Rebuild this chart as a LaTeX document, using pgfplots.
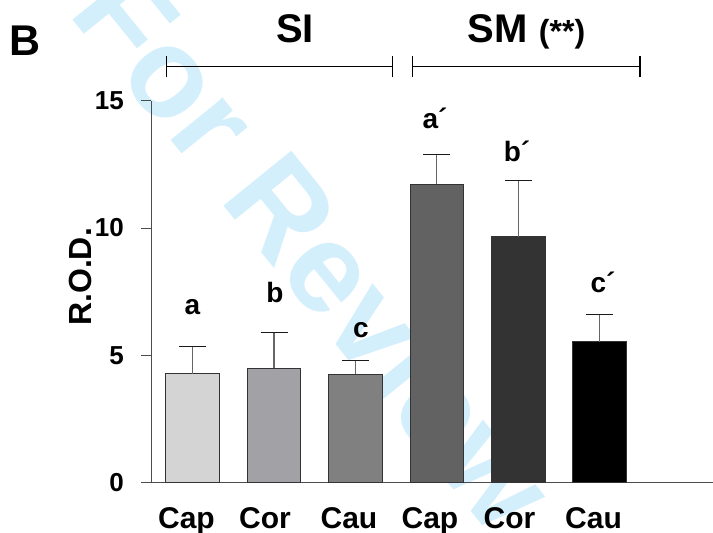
\documentclass[border=0pt]{standalone}
\usepackage{pgfplots}
\pgfplotsset{compat=1.18}
\usepackage{fontspec}
\setmainfont{Liberation Sans}
\definecolor{wm}{RGB}{212,239,252}
\definecolor{c1}{RGB}{212,212,212}
\definecolor{c2}{RGB}{162,161,166}
\definecolor{c3}{RGB}{128,128,128}
\definecolor{c4}{RGB}{98,98,98}
\definecolor{c5}{RGB}{51,51,51}
\definecolor{c6}{RGB}{0,0,0}
\newcommand{\fs}[1]{\bfseries\fontsize{#1}{#1}\selectfont}
\pgfplotsset{errstyle/.style={error bars/.cd, y dir=plus, y explicit,
  error bar style={black!60, line width=1.2pt},
  error mark options={rotate=90, black!90, line width=1.2pt, mark size=13.5pt}}}
\begin{document}
\begin{tikzpicture}
\useasboundingbox (0pt,0pt) rectangle (713pt,533pt);
% watermark
\node[text=wm, rotate=-51, inner sep=0pt] at (316pt,285pt) {\fs{127}For Review};
\begin{axis}[
  at={(151pt,50.3pt)}, anchor=south west,
  scale only axis, width=562pt, height=382pt,
  xmin=-0.512, xmax=6.392, ymin=0, ymax=15,
  axis x line*=bottom, axis y line*=left,
  axis line style={black!70, line width=1pt},
  clip=false,
  ybar, bar width=0.657, bar shift=0pt,
  ytick={0,5,10,15},
  tick align=outside, major tick length=10pt,
  y tick style={black!70, line width=1pt},
  x tick style={draw=none},
  xtick={-0.076,0.888,1.920,2.915,3.892,4.924},
  xticklabels={Cap,Cor,Cau,Cap,Cor,Cau},
  /pgf/number format/assume math mode=true,
  yticklabel style={font=\fs{26}, anchor=east, inner sep=0pt, xshift=-17pt},
  xticklabel style={font=\fs{30}, anchor=north, inner sep=0pt, yshift=-15pt},
]
\addplot[fill=c1, draw=black!80, line width=1pt, errstyle] coordinates {(0,4.28) +- (0,1.06)};
\addplot[fill=c2, draw=black!80, line width=1pt, errstyle] coordinates {(1,4.49) +- (0,1.40)};
\addplot[fill=c3, draw=black!80, line width=1pt, errstyle] coordinates {(2,4.26) +- (0,0.53)};
\addplot[fill=c4, draw=black!80, line width=1pt, errstyle] coordinates {(3,11.72) +- (0,1.17)};
\addplot[fill=c5, draw=black!80, line width=1pt, errstyle] coordinates {(4,9.66) +- (0,2.20)};
\addplot[fill=c6, draw=black!80, line width=1pt, errstyle] coordinates {(5,5.54) +- (0,1.07)};
\end{axis}
% y label
\node[rotate=90, inner sep=0pt] at (80pt,256pt) {\fs{32}R.O.D.};
% letters
\node[anchor=base, inner sep=0pt] at (192.5pt,218pt) {\fs{28}a};
\node[anchor=base, inner sep=0pt] at (275pt,230.3pt) {\fs{28}b};
\node[anchor=base, inner sep=0pt] at (361pt,195pt) {\fs{28}c};
\node[anchor=base, inner sep=0pt] at (435pt,404pt) {\fs{28}a´};
\node[anchor=base, inner sep=0pt] at (517pt,371pt) {\fs{28}b´};
\node[anchor=base, inner sep=0pt] at (603pt,240pt) {\fs{28}c´};
% brackets
\draw[black, line width=1.2pt] (166.7pt,466.3pt) -- (392.7pt,466.3pt);
\draw[black, line width=1.2pt] (166.7pt,455.5pt) -- (166.7pt,476.5pt);
\draw[black, line width=1.2pt] (392.7pt,455.5pt) -- (392.7pt,476.5pt);
\draw[black, line width=1.2pt] (412.7pt,466.3pt) -- (640pt,466.3pt);
\draw[black, line width=1.2pt] (412.7pt,455.5pt) -- (412.7pt,476.5pt);
\draw[black, line width=1.2pt] (640pt,455.5pt) -- (640pt,476.5pt);
% group titles
\node[anchor=base, inner sep=0pt] at (295pt,490pt) {\fs{40}SI};
\node[anchor=base, inner sep=0pt] at (526.5pt,490pt) {\fs{40}SM {\fs{32}(**)}};
\node[anchor=base, inner sep=0pt] at (25pt,477pt) {\fs{43}B};
\end{tikzpicture}
\end{document}
